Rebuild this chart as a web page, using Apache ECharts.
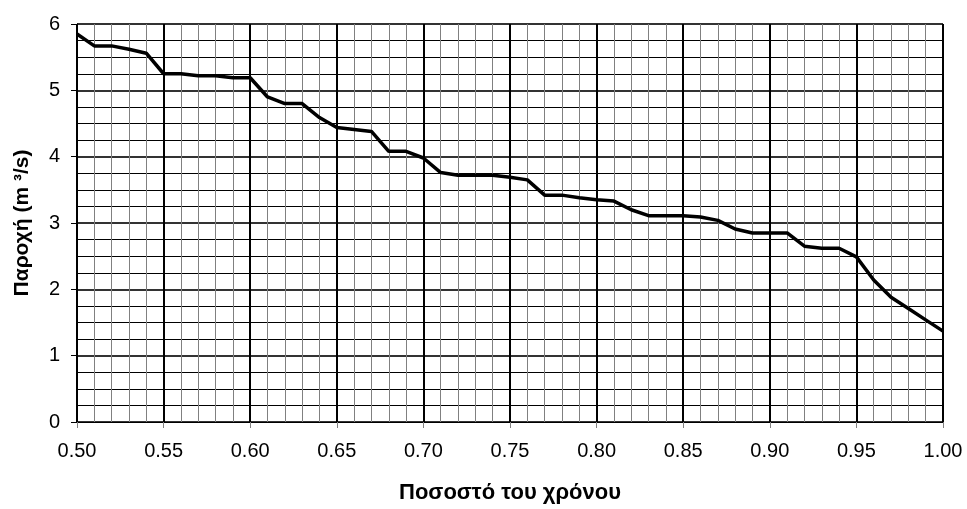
<!DOCTYPE html>
<html>
<head>
<meta charset="utf-8">
<script src="https://cdn.jsdelivr.net/npm/echarts@6/dist/echarts.min.js"></script>
<style>html,body{margin:0;padding:0;background:#fff}#c{width:967px;height:509px}</style>
</head>
<body>
<div id="c"></div>
<script>
var timeFraction = [0.50,0.51,0.52,0.53,0.54,0.55,0.56,0.57,0.58,0.59,0.60,0.61,0.62,0.63,0.64,0.65,0.66,0.67,0.68,0.69,0.70,0.71,0.72,0.73,0.74,0.75,0.76,0.77,0.78,0.79,0.80,0.81,0.82,0.83,0.84,0.85,0.86,0.87,0.88,0.89,0.90,0.91,0.92,0.93,0.94,0.95,0.96,0.97,0.98,0.99,1.00];
var discharge = [5.85,5.67,5.67,5.62,5.56,5.25,5.25,5.22,5.22,5.19,5.19,4.90,4.80,4.80,4.59,4.44,4.41,4.38,4.08,4.08,3.98,3.76,3.72,3.72,3.72,3.69,3.65,3.42,3.42,3.38,3.35,3.33,3.20,3.11,3.11,3.11,3.09,3.04,2.91,2.85,2.85,2.85,2.65,2.62,2.62,2.49,2.14,1.88,1.71,1.54,1.37];
var xAxisTitle = 'Ποσοστό του χρόνου';
var yAxisTitle = 'Παροχή (m ³/s)';

var chart = echarts.init(document.getElementById('c'), null, {renderer:'canvas'});
var pts = timeFraction.map(function(x,i){return [x, discharge[i]];});
var font = '"Liberation Sans", Arial, sans-serif';
chart.setOption({
  animation:false,
  backgroundColor:'#fff',
  grid:{left:77, right:24, top:24, bottom:85, containLabel:false},
  xAxis:{
    type:'value', min:0.5, max:1.0, interval:0.05,
    name:xAxisTitle, nameLocation:'middle', nameGap:60,
    nameTextStyle:{color:'#000', fontSize:22, fontWeight:'bold', fontFamily:font},
    axisLine:{show:true, lineStyle:{color:'#000', width:1}},
    axisTick:{show:true, length:6, inside:false, lineStyle:{color:'#808080'}},
    axisLabel:{color:'#000', fontSize:20, fontFamily:font, margin:19,
      formatter:function(v){return v.toFixed(2);}},
    splitLine:{show:true, lineStyle:{color:'#000', width:2}},
    minorTick:{show:false, splitNumber:5},
    minorSplitLine:{show:true, lineStyle:{color:'#808080', width:1}}
  },
  yAxis:{
    type:'value', min:0, max:6, interval:1,
    name:yAxisTitle, nameLocation:'middle', nameGap:44,
    nameTextStyle:{color:'#000', fontSize:21, fontWeight:'bold', fontFamily:font},
    axisLine:{show:true, lineStyle:{color:'#000', width:1}},
    axisTick:{show:true, length:6, lineStyle:{color:'#000'}},
    axisLabel:{color:'#000', fontSize:20, fontFamily:font, margin:17},
    splitLine:{show:true, lineStyle:{color:'#333', width:2}},
    minorTick:{show:false, splitNumber:4},
    minorSplitLine:{show:true, lineStyle:{color:'#000', width:1}}
  },
  series:[{
    type:'line', data:pts, symbol:'none', smooth:false,
    lineStyle:{color:'#000', width:3.5}, z:10
  }]
});
</script>
</body>
</html>
